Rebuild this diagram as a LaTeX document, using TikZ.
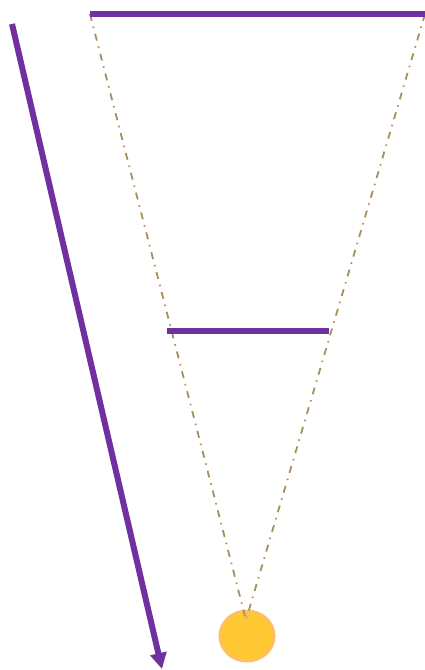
\documentclass[tikz,border=0pt]{standalone}
\usetikzlibrary{arrows.meta,shapes.geometric}
\definecolor{barpurple}{HTML}{7030A0}
\definecolor{rayline}{HTML}{A88F5C}
\definecolor{sunfill}{HTML}{FFC933}
\definecolor{sunedge}{HTML}{FFBF5E}
\begin{document}
\begin{tikzpicture}[x=1pt,y=-1pt,>=Stealth]
			\tikzset{bar/.style={barpurple,line width=6pt},
				ray/.style={rayline,line width=1.8pt,dash pattern=on 7pt off 6pt on 1.5pt off 6pt}}
			\useasboundingbox (0,0) rectangle (425,670);
			\path
			(90,14)coordinate(TL)
			(425,14)coordinate(TR)
			(167,331)coordinate(ML)
			(329,331)coordinate(MR)
			(246,620)coordinate(F)
			(12,24)coordinate(S)
			(162,669)coordinate(E)
			;
			\node[ellipse,fill=sunfill,draw=sunedge,line width=3pt,minimum width=54pt,minimum height=50pt,inner sep=0pt] (sun) at (247,636) {};
			\draw[ray] (TL)--(F);
			\draw[ray,-{Stealth[length=6pt,width=5pt,sunedge!70!rayline]}] (TR)--(F);
			\draw[bar] (TL)--(TR);
			\draw[bar] (ML)--(MR);
			\draw[bar,-{Triangle[length=16pt,width=16pt]}] (S)--(E);
		\end{tikzpicture}
\end{document}
